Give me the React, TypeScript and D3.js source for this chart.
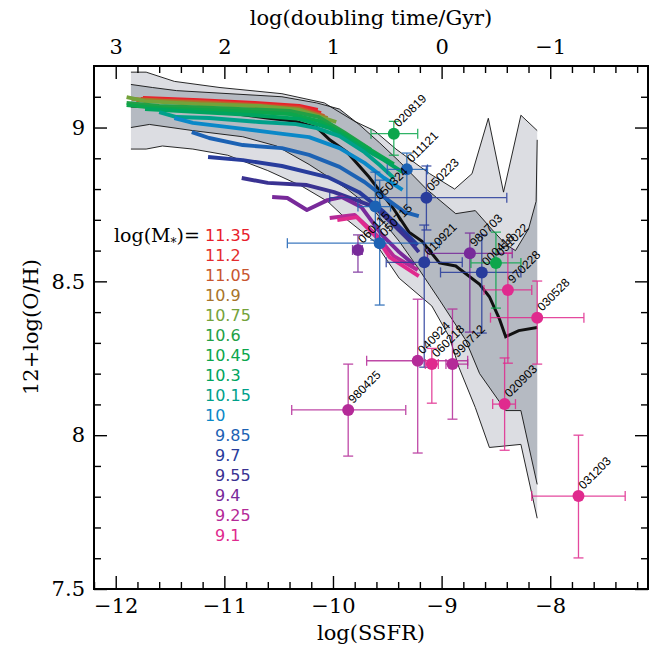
import React, { useEffect, useRef } from 'react';
import * as d3 from 'd3';

// stellar-mass bins, legend order
const massLabels = ['11.35', '11.2', '11.05', '10.9', '10.75', '10.6', '10.45', '10.3', '10.15', '10', '9.85', '9.7', '9.55', '9.4', '9.25', '9.1'];
const massColors = ['#e8202a', '#e42c2e', '#c8562e', '#a8742a', '#74a23a', '#22a046', '#0ca64c', '#00a45e', '#00a08a', '#0a88c8', '#1c62b4', '#283c9c', '#3a3292', '#782a9a', '#b42a98', '#e02a8e'];

// SDSS median tracks, [log SSFR, 12+log(O/H)], one per mass bin
const track1135 = [[-11.75, 9.096], [-11.23, 9.089], [-10.72, 9.08], [-10.31, 9.07], [-10.14, 9.057]];
const track1120 = [[-11.77, 9.093], [-11.23, 9.086], [-10.72, 9.076], [-10.31, 9.067], [-10.11, 9.047]];
const track1105 = [[-11.81, 9.089], [-11.23, 9.083], [-10.72, 9.073], [-10.31, 9.063], [-10.08, 9.037]];
const track1090 = [[-11.85, 9.093], [-11.23, 9.08], [-10.72, 9.07], [-10.31, 9.06], [-10.05, 9.031]];
const track1075 = [[-11.9, 9.099], [-11.73, 9.086], [-11.23, 9.076], [-10.68, 9.07], [-10.31, 9.057], [-9.97, 9.018]];
const track1060 = [[-11.9, 9.08], [-11.6, 9.07], [-11.04, 9.063], [-10.4, 9.054], [-10.13, 9.034], [-9.9, 8.985], [-9.65, 8.927]];
const track1045 = [[-11.9, 9.073], [-11.5, 9.06], [-10.95, 9.054], [-10.4, 9.044], [-10.13, 9.021], [-9.85, 8.969], [-9.62, 8.92], [-9.44, 8.881]];
const track1030 = [[-11.73, 9.06], [-11.23, 9.05], [-10.77, 9.041], [-10.31, 9.028], [-10.03, 8.998], [-9.76, 8.94], [-9.53, 8.894], [-9.36, 8.855]];
const track1015 = [[-11.6, 9.05], [-11.44, 9.034], [-11.14, 9.031], [-10.68, 9.018], [-10.34, 9.011], [-10.15, 8.998], [-9.94, 8.972], [-9.71, 8.92], [-9.57, 8.878], [-9.44, 8.836]];
const track1000 = [[-11.46, 9.031], [-11.29, 9.015], [-10.98, 9.002], [-10.52, 8.982], [-10.22, 8.969], [-9.94, 8.933], [-9.71, 8.885], [-9.53, 8.836], [-9.36, 8.797]];
const track985 = [[-11.3, 8.985], [-11.14, 8.966], [-10.83, 8.943], [-10.47, 8.933], [-10.22, 8.911], [-9.94, 8.872], [-9.71, 8.823], [-9.53, 8.774], [-9.34, 8.725], [-9.21, 8.712]];
const track970 = [[-11.15, 8.904], [-10.83, 8.894], [-10.47, 8.875], [-10.05, 8.839], [-9.76, 8.79], [-9.53, 8.725], [-9.34, 8.66], [-9.22, 8.618]];
const track955 = [[-10.84, 8.836], [-10.6, 8.82], [-10.24, 8.813], [-9.99, 8.79], [-9.62, 8.742], [-9.44, 8.683], [-9.3, 8.634], [-9.21, 8.595]];
const track940 = [[-10.56, 8.774], [-10.42, 8.771], [-10.24, 8.732], [-10.05, 8.764], [-9.92, 8.774], [-9.74, 8.742], [-9.55, 8.651], [-9.39, 8.595], [-9.25, 8.553]];
const track925 = [[-10.03, 8.706], [-9.8, 8.716], [-9.59, 8.647], [-9.44, 8.582], [-9.22, 8.537]];
const track910 = [[-9.96, 8.699], [-9.78, 8.709], [-9.6, 8.644], [-9.48, 8.579], [-9.21, 8.517]];
const tracks = [track1135, track1120, track1105, track1090, track1075, track1060, track1045, track1030, track1015, track1000, track985, track970, track955, track940, track925, track910];

// all-galaxy distribution: outer and inner envelopes plus median
const outerUpper = [[-11.86, 9.18], [-11.72, 9.18], [-11.46, 9.15], [-11.04, 9.13], [-10.47, 9.11], [-10.08, 9.08], [-9.8, 9.02], [-9.62, 8.99], [-9.42, 8.93], [-9.11, 8.85], [-8.88, 8.8], [-8.72, 8.85], [-8.57, 9.03], [-8.43, 8.79], [-8.27, 9.04], [-8.12, 8.99]];
const outerLower = [[-11.86, 8.93], [-11.72, 8.93], [-11.57, 8.94], [-11.29, 8.93], [-10.97, 8.91], [-10.6, 8.86], [-10.29, 8.81], [-10.05, 8.76], [-9.87, 8.7], [-9.62, 8.63], [-9.39, 8.51], [-9.09, 8.42], [-8.93, 8.32], [-8.84, 8.22], [-8.69, 8.09], [-8.56, 7.96], [-8.27, 7.97], [-8.12, 7.73]];
const innerUpper = [[-11.86, 9.14], [-11.66, 9.13], [-11.44, 9.12], [-10.47, 9.1], [-10.15, 9.08], [-9.94, 9.06], [-9.76, 9.01], [-9.57, 8.95], [-9.39, 8.89], [-9.14, 8.8], [-8.87, 8.72], [-8.69, 8.73], [-8.54, 8.67], [-8.41, 8.62], [-8.32, 8.6], [-8.2, 8.67], [-8.13, 8.76], [-8.12, 8.96]];
const innerLower = [[-11.86, 9.0], [-11.69, 9.01], [-11.29, 8.99], [-10.83, 8.97], [-10.52, 8.94], [-10.22, 8.88], [-9.87, 8.8], [-9.62, 8.73], [-9.39, 8.63], [-9.21, 8.54], [-9.02, 8.44], [-8.78, 8.31], [-8.65, 8.2], [-8.41, 8.08], [-8.27, 8.08], [-8.12, 7.84]];
const median = [[-11.86, 9.07], [-11.23, 9.06], [-10.59, 9.03], [-10.34, 9.02], [-10.15, 9.0], [-10.03, 8.96], [-9.87, 8.92], [-9.67, 8.84], [-9.45, 8.74], [-9.3, 8.66], [-9.18, 8.63], [-9.02, 8.56], [-8.87, 8.55], [-8.65, 8.49], [-8.56, 8.45], [-8.47, 8.38], [-8.41, 8.32], [-8.29, 8.34], [-8.12, 8.35]];

// GRB hosts
const grbNames = ['020819', '011121', '050223', '050324', '050715', '060115', '010921', '980703', '000418', '051022', '970228', '030528', '020903', '031203', '980425', '040924', '060218', '990712'];
const grbSSFR = [-9.44, -9.32, -9.14, -9.61, -9.57, -9.77, -9.16, -8.74, -8.63, -8.5, -8.39, -8.12, -8.42, -7.74, -9.86, -9.22, -9.09, -8.9];
const grbSSFRLo = [-9.65, -9.5, -10.03, -9.77, -10.42, -9.82, -9.51, -9.13, -9.01, -8.73, -8.61, -8.55, -8.53, -8.17, -10.38, -9.69, -9.15, -8.96];
const grbSSFRHi = [-9.22, -9.13, -8.4, -9.47, -9.02, -9.73, -8.81, -8.35, -8.27, -8.27, -8.17, -7.69, -8.32, -7.31, -9.33, -8.76, -9.03, -8.76];
const grbOH = [8.98, 8.864, 8.772, 8.743, 8.624, 8.602, 8.562, 8.591, 8.529, 8.56, 8.472, 8.382, 8.101, 7.802, 8.082, 8.242, 8.231, 8.231];
const grbOHLo = [8.91, 8.722, 8.667, 8.634, 8.423, 8.53, 8.221, 8.335, 8.332, 8.413, 8.234, 8.231, 7.951, 7.601, 7.932, 7.942, 8.104, 8.052];
const grbOHHi = [9.02, 8.917, 8.875, 8.855, 8.829, 8.651, 8.683, 8.657, 8.651, 8.66, 8.592, 8.501, 8.251, 8.0, 8.231, 8.442, 8.282, 8.41];
const grbMassBin = [6, 10, 11, 10, 10, 13, 11, 13, 11, 6, 15, 15, 15, 15, 14, 14, 15, 14];

const W = 659;
const H = 652;
const serif = '"DejaVu Serif", "Liberation Serif", serif';
const sans = '"Liberation Sans", Arial, sans-serif';

export default function App() {
  const node = useRef<SVGSVGElement | null>(null);

  useEffect(() => {
    const svg = d3.select(node.current);
    svg.selectAll('*').remove();

    const x = d3.scaleLinear().domain([-12.2, -7.1]).range([94, 648]);
    const y = d3.scaleLinear().domain([7.5, 9.2]).range([589, 66]);
    // doubling time = 1/SSFR, in Gyr
    const xTop = d3.scaleLinear().domain([-(-12.2) - 9, -(-7.1) - 9]).range([94, 648]);

    const line = d3.line<number[]>().x(d => x(d[0])).y(d => y(d[1]));

    // bands
    const outerPoly = outerUpper.concat(outerLower.slice().reverse());
    const innerPoly = innerUpper.concat(innerLower.slice().reverse());
    svg.append('path').attr('d', line(outerPoly) + 'Z').attr('fill', '#dcdde2');
    svg.append('path').attr('d', line(innerPoly) + 'Z').attr('fill', '#b5bac2');
    [outerUpper, outerLower, innerUpper, innerLower].forEach(b => {
      svg.append('path').attr('d', line(b)).attr('fill', 'none').attr('stroke', '#111').attr('stroke-width', 0.9);
    });
    svg.append('path').attr('d', line(median)).attr('fill', 'none').attr('stroke', '#111').attr('stroke-width', 3);

    // mass tracks
    tracks.forEach((t, i) => {
      svg.append('path')
        .attr('d', line(t))
        .attr('fill', 'none')
        .attr('stroke', massColors[i])
        .attr('stroke-width', 3.9)
        .attr('stroke-linejoin', 'round');
    });

    // GRB error bars and points
    const cap = 5;
    const g = svg.append('g');
    grbNames.forEach((name, i) => {
      const c = massColors[grbMassBin[i]];
      const px = x(grbSSFR[i]);
      const py = y(grbOH[i]);
      const eb = g.append('g').attr('stroke', c).attr('stroke-width', 1.3).attr('opacity', 0.85);
      eb.append('line').attr('x1', x(grbSSFRLo[i])).attr('x2', x(grbSSFRHi[i])).attr('y1', py).attr('y2', py);
      eb.append('line').attr('x1', px).attr('x2', px).attr('y1', y(grbOHLo[i])).attr('y2', y(grbOHHi[i]));
      [grbSSFRLo[i], grbSSFRHi[i]].forEach(v => {
        eb.append('line').attr('x1', x(v)).attr('x2', x(v)).attr('y1', py - cap).attr('y2', py + cap);
      });
      [grbOHLo[i], grbOHHi[i]].forEach(v => {
        eb.append('line').attr('x1', px - cap).attr('x2', px + cap).attr('y1', y(v)).attr('y2', y(v));
      });
    });
    grbNames.forEach((name, i) => {
      const px = x(grbSSFR[i]);
      const py = y(grbOH[i]);
      g.append('circle').attr('cx', px).attr('cy', py).attr('r', 6).attr('fill', massColors[grbMassBin[i]]);
      g.append('text')
        .attr('transform', `translate(${px + 5},${py - 6}) rotate(-45)`)
        .attr('font-family', sans)
        .attr('font-size', 12)
        .attr('fill', '#000')
        .text(name);
    });

    // axes, ticks point inward
    const addAxis = (gen: any, tr: string, labels: boolean) => {
      const a = svg.append('g').attr('transform', tr).call(gen);
      a.select('.domain').remove();
      a.selectAll('line').attr('stroke', '#000').attr('stroke-width', 1.4);
      a.selectAll('text').attr('font-family', serif).attr('font-size', 21).attr('fill', '#000');
      if (!labels) a.selectAll('text').remove();
      return a;
    };
    const xMajor = [-12, -11, -10, -9, -8];
    const xMinor = d3.range(-12.2, -7.1, 0.2).map(v => +v.toFixed(1)).filter(v => xMajor.indexOf(v) < 0);
    const yMajor = [7.5, 8, 8.5, 9];
    const yMinor = d3.range(7.6, 9.2, 0.1).map(v => +v.toFixed(1)).filter(v => yMajor.indexOf(v) < 0);
    const tMajor = [3, 2, 1, 0, -1];
    const tMinor = d3.range(-1.8, 3.2, 0.2).map(v => +v.toFixed(1)).filter(v => tMajor.indexOf(v) < 0);

    addAxis(d3.axisBottom(x).tickValues(xMajor).tickSize(-13).tickPadding(9).tickFormat(d3.format('d')), 'translate(0,589)', true);
    addAxis(d3.axisBottom(x).tickValues(xMinor).tickSize(-7).tickFormat(() => ''), 'translate(0,589)', false);
    addAxis(d3.axisTop(xTop).tickValues(tMajor).tickSize(-13).tickPadding(12).tickFormat(d3.format('d')), 'translate(0,66)', true);
    addAxis(d3.axisTop(xTop).tickValues(tMinor).tickSize(-7).tickFormat(() => ''), 'translate(0,66)', false);
    addAxis(d3.axisLeft(y).tickValues(yMajor).tickSize(-13).tickPadding(9).tickFormat(d3.format('')), 'translate(94,0)', true);
    addAxis(d3.axisLeft(y).tickValues(yMinor).tickSize(-7).tickFormat(() => ''), 'translate(94,0)', false);
    addAxis(d3.axisRight(y).tickValues(yMajor).tickSize(-13).tickFormat(() => ''), 'translate(648,0)', false);
    addAxis(d3.axisRight(y).tickValues(yMinor).tickSize(-7).tickFormat(() => ''), 'translate(648,0)', false);

    svg.append('rect')
      .attr('x', 94).attr('y', 66).attr('width', 648 - 94).attr('height', 589 - 66)
      .attr('fill', 'none').attr('stroke', '#000').attr('stroke-width', 2);

    // titles
    svg.append('text').attr('x', 371).attr('y', 640).attr('text-anchor', 'middle')
      .attr('font-family', serif).attr('font-size', 21).text('log(SSFR)');
    svg.append('text').attr('x', 371).attr('y', 25).attr('text-anchor', 'middle')
      .attr('font-family', serif).attr('font-size', 21).text('log(doubling time/Gyr)');
    svg.append('text').attr('transform', 'translate(38,327) rotate(-90)').attr('text-anchor', 'middle')
      .attr('font-family', serif).attr('font-size', 21).text('12+log(O/H)');

    // legend
    const lt = svg.append('text').attr('x', 114).attr('y', 242).attr('font-family', serif).attr('font-size', 19);
    lt.append('tspan').text('log(M');
    lt.append('tspan').attr('font-size', 12).attr('dy', 5).text('*');
    lt.append('tspan').attr('dy', -5).text(')=');
    massLabels.forEach((m, i) => {
      svg.append('text')
        .attr('x', m[0] === '1' ? 205 : 215)
        .attr('y', 241 + 20 * i)
        .attr('font-family', '"DejaVu Sans", sans-serif')
        .attr('font-size', 16)
        .attr('fill', massColors[i])
        .text(m);
    });
  }, []);

  return (
    <svg ref={node} width={W} height={H} style={{ position: 'absolute', left: 0, top: 0, background: '#fff' }} />
  );
}
